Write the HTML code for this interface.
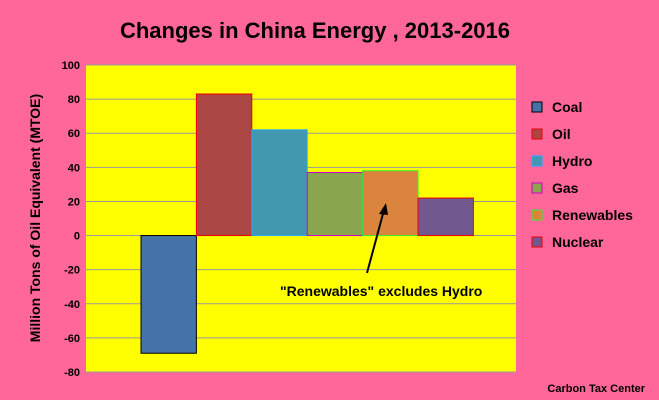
<!DOCTYPE html>
<html><head><meta charset="utf-8"><style>
body{margin:0;background:#FF6699;}
svg{display:block;font-family:"Liberation Sans",sans-serif;}
</style></head><body>
<svg id="c" width="659" height="400">
<rect width="659" height="400" fill="#FF6699"/>
<text x="315" y="38" text-anchor="middle" font-size="22" font-weight="bold" fill="#000">Changes in China Energy , 2013-2016</text>
<rect x="86" y="65" width="430" height="307" fill="#FFFF00"/>
<g id="grid"></g><g id="bars"></g><g id="ticks"></g><g id="legend"></g>
<text transform="translate(40,218) rotate(-90)" text-anchor="middle" font-size="14" font-weight="bold">Million Tons of Oil Equivalent (MTOE)</text>
<text x="280" y="296" font-size="14" font-weight="bold">"Renewables" excludes Hydro</text>
<line x1="367" y1="273" x2="384" y2="210" stroke="#000" stroke-width="2"/>
<polygon points="386,203 379,214 388,215" fill="#000"/>
<text x="645" y="392" text-anchor="end" font-size="11" font-weight="bold">Carbon Tax Center</text>
</svg>
<script>
const categories=["Coal","Oil","Hydro","Gas","Renewables","Nuclear"];
const values=[-69,83,62,37,38,22];
const tickValues=[100,80,60,40,20,0,-20,-40,-60,-80];
const fills=["#4572A7","#AA4643","#4198AF","#89A54E","#DB843D","#71588F"];
const borders=["#000","#e00","#2af","#c0c","#3e3","#e00"];
const NS="http://www.w3.org/2000/svg";
const y=v=>65+(100-v)*(307/180);
const x0=141,bw=55.4;
function mk(t,a,p){const e=document.createElementNS(NS,t);for(const k in a)e.setAttribute(k,a[k]);p.appendChild(e);return e;}
const grid=document.getElementById('grid'),ticks=document.getElementById('ticks'),bars=document.getElementById('bars'),leg=document.getElementById('legend');
tickValues.forEach(v=>{
 const l=mk('line',{x1:86,x2:516,y1:y(v),y2:y(v),stroke:'#999','stroke-width':1},grid);
 
 
 const t=mk('text',{x:80,y:y(v)+4,'text-anchor':'end','font-size':11,'font-weight':'bold'},ticks);
 t.textContent=v;
 
 
});
values.forEach((v,i)=>{
 const r=mk('rect',{x:x0+i*bw,y:Math.min(y(v),y(0)),width:bw,height:Math.abs(y(v)-y(0)),fill:fills[i],stroke:borders[i],'stroke-width':1},bars);
 
 
});
categories.forEach((c,i)=>{
 const yy=107+i*27;
 const s=mk('rect',{x:532,y:yy-5,width:10,height:10,fill:fills[i],stroke:borders[i],'stroke-width':1},leg);
 
 
 const t=mk('text',{x:552,y:yy+5,'font-size':14,'font-weight':'bold'},leg);
 t.textContent=c;
 
 
});
</script>
</body></html>
